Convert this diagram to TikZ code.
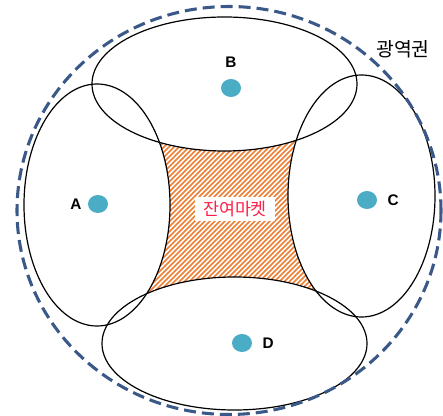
\documentclass[tikz,border=0pt]{standalone}
\usepackage{fontspec}
\setmainfont{Liberation Sans}
\newfontfamily\hangul{Noto Sans CJK KR}
\usetikzlibrary{patterns.meta,positioning,shapes.geometric}
\definecolor{regionblue}{RGB}{59,89,136}
\definecolor{sitecyan}{RGB}{75,172,198}
\definecolor{hatchorange}{RGB}{237,125,49}
\definecolor{residualred}{RGB}{255,30,70}
\tikzset{
    market diagram/.style = {x=0.75pt, y=-0.75pt},
    market/.style         = {draw, line width=0.9pt},
    region/.style         = {draw=regionblue, line width=2.3pt,
                             dash pattern=on 9pt off 4.5pt},
    site/.style           = {ellipse, fill=sitecyan, minimum width=15pt,
                             minimum height=13.5pt, inner sep=0pt},
    lbl/.style            = {font=\bfseries\fontsize{11.5}{13}\selectfont,
                             inner sep=0pt},
    hatch/.style          = {pattern={Lines[angle=45, distance=2.652pt,
                             line width=1.3pt]}, pattern color=hatchorange},
    kor/.style            = {font=\hangul\fontsize{13}{15}\selectfont}
}
\begin{document}
\begin{tikzpicture}[market diagram]
\useasboundingbox (0,0) rectangle (443,416);

% ================= Residual market (hatched) =================
\begin{scope}[even odd rule]
    \clip (0,0) rectangle (443,416)
        (97,205) ellipse [x radius=73, y radius=121];
    \clip (0,0) rectangle (443,416)
        (224.5,84) ellipse [x radius=132.5, y radius=67];
    \clip (0,0) rectangle (443,416)
        (361.5,196) ellipse [x radius=73.5, y radius=121];
    \clip (0,0) rectangle (443,416)
        (234.5,343.5) ellipse [x radius=132.5, y radius=66.5];
    \fill[hatch] (145,130) -- (308,130) -- (333,302) -- (138,300) -- cycle;
\end{scope}

% ================= Local markets =================
\draw[market] (97,205) ellipse [x radius=73, y radius=121];
\draw[market] (224.5,84) ellipse [x radius=132.5, y radius=67];
\draw[market] (361.5,196) ellipse [x radius=73.5, y radius=121];
\draw[market] (234.5,343.5) ellipse [x radius=132.5, y radius=66.5];

% ================= Wide region =================
\draw[region] (229,210.5) ellipse [x radius=212, y radius=204];
\node[kor, font=\hangul\fontsize{14.5}{16}\selectfont] (wide) at (403,49) {광역권};

% ================= Sites =================
\node[site] (siteA) at (98,204)  {};
\node[site] (siteB) at (231,88)  {};
\node[site] (siteC) at (367,200) {};
\node[site] (siteD) at (242,343) {};
\node[lbl, left=4.5pt of siteA]  (labA) {A};
\node[lbl, above=8.5pt of siteB] (labB) {B};
\node[lbl, right=7.5pt of siteC] (labC) {C};
\node[lbl, right=7.5pt of siteD] (labD) {D};

% ================= Residual label =================
\node[kor, fill=white, text=residualred, inner xsep=6pt, inner ysep=3pt]
    (residual) at (235,209) {잔여마켓};

\end{tikzpicture}
\end{document}
